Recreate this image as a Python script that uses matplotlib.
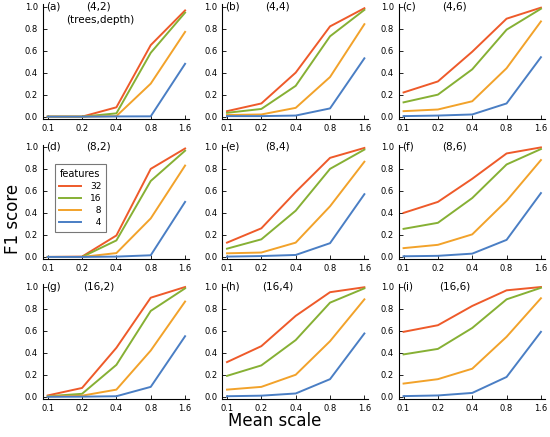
import matplotlib
matplotlib.use("Agg")
import matplotlib.pyplot as plt

# mean scale (x axis, log2 spaced)
scales = [0.1, 0.2, 0.4, 0.8, 1.6]
features = [32, 16, 8, 4]
colors = ["#ee5a2a", "#86b034", "#f2a22a", "#4a7ec4"]

panel_tags = ["(a)", "(b)", "(c)", "(d)", "(e)", "(f)", "(g)", "(h)", "(i)"]
panel_titles = ["(4,2)", "(4,4)", "(4,6)", "(8,2)", "(8,4)", "(8,6)",
                "(16,2)", "(16,4)", "(16,6)"]

# F1 scores per panel, one row per feature count (32, 16, 8, 4)
f1_a = [[0.0, 0.0, 0.085, 0.65, 0.965],
        [0.0, 0.0, 0.03, 0.58, 0.945],
        [0.0, 0.0, 0.005, 0.30, 0.77],
        [0.0, 0.0, 0.002, 0.003, 0.48]]
f1_b = [[0.05, 0.12, 0.40, 0.82, 0.985],
        [0.035, 0.07, 0.28, 0.73, 0.97],
        [0.015, 0.02, 0.08, 0.36, 0.84],
        [0.005, 0.005, 0.01, 0.075, 0.53]]
f1_c = [[0.22, 0.32, 0.59, 0.89, 0.99],
        [0.13, 0.20, 0.43, 0.79, 0.98],
        [0.05, 0.065, 0.14, 0.44, 0.865],
        [0.005, 0.01, 0.02, 0.12, 0.54]]
f1_d = [[0.0, 0.003, 0.195, 0.80, 0.985],
        [0.0, 0.0, 0.15, 0.69, 0.965],
        [0.0, 0.0, 0.035, 0.35, 0.83],
        [0.0, 0.0, 0.003, 0.015, 0.50]]
f1_e = [[0.13, 0.26, 0.59, 0.90, 0.99],
        [0.075, 0.16, 0.42, 0.80, 0.975],
        [0.033, 0.04, 0.13, 0.46, 0.865],
        [0.003, 0.008, 0.018, 0.125, 0.57]]
f1_f = [[0.40, 0.50, 0.71, 0.94, 0.995],
        [0.255, 0.31, 0.535, 0.84, 0.98],
        [0.08, 0.11, 0.205, 0.51, 0.88],
        [0.006, 0.01, 0.03, 0.155, 0.58]]
f1_g = [[0.012, 0.08, 0.445, 0.90, 0.997],
        [0.005, 0.027, 0.29, 0.78, 0.985],
        [0.003, 0.01, 0.065, 0.42, 0.865],
        [0.0, 0.001, 0.005, 0.09, 0.55]]
f1_h = [[0.315, 0.46, 0.735, 0.95, 0.995],
        [0.19, 0.285, 0.515, 0.855, 0.985],
        [0.065, 0.09, 0.20, 0.505, 0.885],
        [0.005, 0.01, 0.03, 0.16, 0.575]]
f1_i = [[0.59, 0.65, 0.825, 0.967, 0.997],
        [0.385, 0.435, 0.625, 0.885, 0.99],
        [0.12, 0.16, 0.255, 0.545, 0.895],
        [0.006, 0.012, 0.035, 0.18, 0.59]]
panels = [f1_a, f1_b, f1_c, f1_d, f1_e, f1_f, f1_g, f1_h, f1_i]

fig = plt.figure(figsize=(5.5, 4.37), dpi=100)

lefts = [0.078, 0.404, 0.725]
bottoms = [0.728, 0.407, 0.087]
w, h = 0.266, 0.262

for k, data in enumerate(panels):
    r, c = divmod(k, 3)
    ax = fig.add_axes([lefts[c], bottoms[r], w, h])
    for vals, col, n in zip(data, colors, features):
        # figure space pads the single digit labels so they line up right
        ax.plot(scales, vals, color=col, lw=1.4, label=f"{n:>2}".replace(" ", "\u2007"))
    ax.set_xscale("log", base=2)
    ax.set_xlim(0.1 / 2**0.14, 1.6 * 2**0.12)
    ax.set_ylim(-0.02, 1.02)
    ax.set_xticks(scales)
    ax.set_xticklabels(["0.1", "0.2", "0.4", "0.8", "1.6"])
    ax.minorticks_off()
    ax.set_yticks([0, 0.2, 0.4, 0.6, 0.8, 1.0])
    ax.set_yticklabels(["0.0", "0.2", "0.4", "0.6", "0.8", "1.0"])
    ax.tick_params(labelsize=6, direction="in", length=3, width=0.6, pad=3.5)
    ax.spines["top"].set_visible(False)
    ax.spines["right"].set_visible(False)
    ax.spines["left"].set_linewidth(0.8)
    ax.spines["bottom"].set_linewidth(0.8)
    ax.text(0.02, 0.98, panel_tags[k], transform=ax.transAxes,
            fontsize=7.5, ha="left", va="center")
    ax.text(0.38, 0.98, panel_titles[k], transform=ax.transAxes,
            fontsize=7.5, ha="center", va="center")
    if k == 0:
        ax.text(0.39, 0.86, "(trees,depth)", transform=ax.transAxes,
                fontsize=7.5, ha="center", va="center")
    if k == 3:
        leg = ax.legend(title="features", fontsize=6.5, title_fontsize=7,
                        loc="upper left", bbox_to_anchor=(0.05, 0.87),
                        frameon=True, fancybox=False, handlelength=2.4,
                        borderpad=0.5, labelspacing=0.35, handletextpad=1.0)
        leg.get_frame().set_edgecolor("#555555")
        leg.get_frame().set_linewidth(0.8)

fig.text(0.5, 0.015, "Mean scale", fontsize=12, ha="center", va="bottom")
fig.text(0.008, 0.5, "F1 score", fontsize=12, rotation=90,
         ha="left", va="center")

fig.savefig("out.png", dpi=100)
